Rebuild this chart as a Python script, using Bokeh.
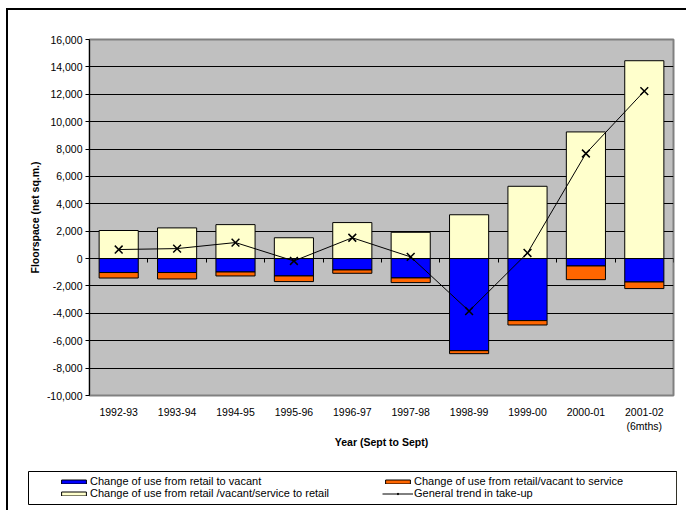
from bokeh.plotting import figure
from bokeh.layouts import column
from bokeh.models import (ColumnDataSource, FixedTicker, NumeralTickFormatter, LinearAxis,
                          Legend, LegendItem, Range1d)
from bokeh.embed import file_html
from bokeh.resources import INLINE

# ---- data ----
years = ["1992-93", "1993-94", "1994-95", "1995-96", "1996-97",
         "1997-98", "1998-99", "1999-00", "2000-01", "2001-02"]
year_labels = ["1992-93", "1993-94", "1994-95", "1995-96", "1996-97",
               "1997-98", "1998-99", "1999-00", "2000-01", "2001-02\n(6mths)"]
to_retail = [2050, 2240, 2480, 1520, 2630, 1920, 3200, 5280, 9250, 14450]
retail_to_vacant = [-1020, -1020, -980, -1270, -830, -1415, -6725, -4530, -540, -1710]
to_service = [-400, -470, -290, -410, -245, -340, -220, -320, -1000, -480]
trend = [660, 730, 1170, -175, 1520, 120, -3830, 410, 7675, 12230]
y_ticks = list(range(-10000, 16001, 2000))
legend_labels = ["Change of use from retail to vacant",
                 "Change of use from retail /vacant/service to retail",
                 "Change of use from retail/vacant to service",
                 "General trend in take-up"]

FONT = "Liberation Sans"
FS = "10.5px"
BLUE, ORANGE, YELLOW = "#0000FF", "#FF6600", "#FFFFCC"

xs = [i + 0.5 for i in range(len(years))]
src = ColumnDataSource(dict(
    x=xs,
    retail=to_retail,
    vacant=retail_to_vacant,
    vac_serv=[a + b for a, b in zip(retail_to_vacant, to_service)],
    trend=trend,
))


def add_series(fig, w):
    r_y = fig.vbar(x="x", width=w, bottom=0, top="retail", source=src,
                   fill_color=YELLOW, line_color="black", line_width=1)
    r_b = fig.vbar(x="x", width=w, top=0, bottom="vacant", source=src,
                   fill_color=BLUE, line_color="black", line_width=1)
    r_o = fig.vbar(x="x", width=w, top="vacant", bottom="vac_serv", source=src,
                   fill_color=ORANGE, line_color="black", line_width=1)
    r_l = fig.line(x="x", y="trend", source=src, line_color="black", line_width=1)
    r_x = fig.scatter(x="x", y="trend", source=src, marker="x", size=11,
                      line_color="black", line_width=1.5)
    return r_b, r_o, r_y, r_l, r_x


# page origin of the figures: (8, 10) after the 2px outer border
p = figure(width=678, height=456, output_backend="svg", toolbar_location=None,
           x_range=Range1d(0, len(years)), y_range=Range1d(-10000, 16000),
           min_border_left=81, min_border_right=13, min_border_top=29, min_border_bottom=71)
p.frame_align = False

p.background_fill_color = "#C0C0C0"
p.border_fill_color = "white"
p.outline_line_color = "#808080"
p.outline_line_width = 2

# grid
p.xgrid.visible = False
p.ygrid.ticker = FixedTicker(ticks=y_ticks)
p.ygrid.grid_line_color = "black"
p.ygrid.grid_line_width = 1

# y axis
yax = p.yaxis[0]
yax.ticker = FixedTicker(ticks=y_ticks)
yax.formatter = NumeralTickFormatter(format="0,0")
yax.axis_line_color = "black"
yax.major_tick_line_color = "black"
yax.major_tick_out = 4
yax.major_tick_in = 0
yax.minor_tick_out = 0
yax.minor_tick_in = 0
yax.major_label_text_font = FONT
yax.major_label_text_font_size = FS
yax.major_label_text_color = "black"
yax.major_label_standoff = 3
yax.axis_label = "Floorspace (net sq.m.)"
yax.axis_label_text_font = FONT
yax.axis_label_text_font_size = FS
yax.axis_label_text_font_style = "bold"
yax.axis_label_text_color = "black"
yax.axis_label_standoff = 3

# x axis (labels only)
xax = p.xaxis[0]
xax.ticker = FixedTicker(ticks=xs)
xax.major_label_overrides = {x: lab for x, lab in zip(xs, year_labels)}
xax.axis_line_alpha = 0
xax.major_tick_out = 0
xax.major_tick_in = 0
xax.minor_tick_out = 0
xax.minor_tick_in = 0
xax.major_label_text_font = FONT
xax.major_label_text_font_size = FS
xax.major_label_text_color = "black"
xax.major_label_standoff = 10
xax.axis_label = "Year (Sept to Sept)"
xax.axis_label_text_font = FONT
xax.axis_label_text_font_size = FS
xax.axis_label_text_font_style = "bold"
xax.axis_label_text_color = "black"
xax.axis_label_standoff = 1

# zero axis with category boundary ticks
zax = LinearAxis(fixed_location=0, ticker=FixedTicker(ticks=list(range(len(years) + 1))))
zax.axis_line_color = "black"
zax.axis_line_width = 1
zax.major_tick_line_color = "black"
zax.major_tick_out = 4
zax.major_tick_in = 0
zax.minor_tick_out = 0
zax.minor_tick_in = 0
zax.major_label_text_alpha = 0
zax.major_label_text_font_size = "1px"
zax.major_label_standoff = 0
p.add_layout(zax, "below")

add_series(p, 0.67)

# ---- legend panel (separate small figure whose frame is the legend box) ----
# the series are drawn again here only to supply legend glyphs; the view range
# lies away from the data, so nothing of them shows in this frame
lf = figure(width=678, height=44, output_backend="svg", toolbar_location=None,
            x_range=Range1d(-3, -2), y_range=Range1d(0, 1),
            x_axis_type=None, y_axis_type=None,
            min_border_left=20, min_border_right=10, min_border_top=5, min_border_bottom=6)
lf.frame_align = False
lf.grid.visible = False
lf.background_fill_color = "white"
lf.border_fill_color = "white"
lf.outline_line_color = "black"
lf.outline_line_width = 1

g_blue, g_orange, g_yellow, g_line, g_x = add_series(lf, 0.67)
g_x.glyph.size = 8
g_x.glyph.line_width = 1.2


def make_legend(items, loc):
    lg = Legend(items=items, location=loc)
    lg.glyph_width = 31
    lg.glyph_height = 5
    lg.label_standoff = 1
    lg.label_height = 10
    lg.spacing = 0
    lg.padding = 0
    lg.margin = 0
    lg.border_line_alpha = 0
    lg.background_fill_alpha = 0
    lg.label_text_font = FONT
    lg.label_text_font_size = "11px"
    lg.label_text_color = "black"
    return lg


leg1 = make_legend([
    LegendItem(label=legend_labels[0], renderers=[g_blue]),
    LegendItem(label=legend_labels[1], renderers=[g_yellow]),
], (30, 5))
leg2 = make_legend([
    LegendItem(label=legend_labels[2], renderers=[g_orange]),
    LegendItem(label=legend_labels[3], renderers=[g_line, g_x]),
], (354, 5))
lf.add_layout(leg1)
lf.add_layout(leg2)

root = column(p, lf, spacing=0,
              styles={"margin-left": "6px", "margin-top": "8px",
                      "border-left": "2px solid black", "border-top": "2px solid black"})

open("out.html", "w").write(file_html(root, INLINE))
